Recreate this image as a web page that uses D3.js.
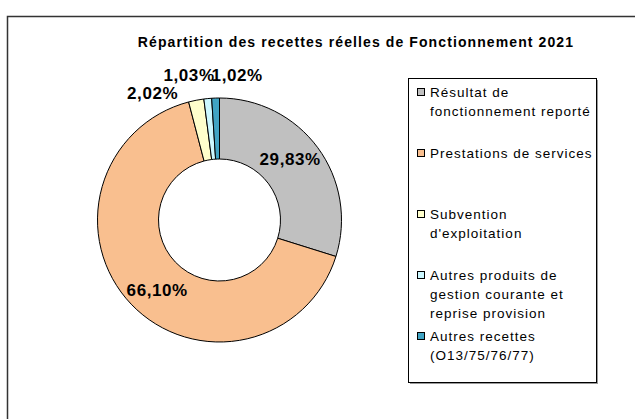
<!DOCTYPE html>
<html>
<head>
<meta charset="utf-8">
<script src="https://cdn.jsdelivr.net/npm/d3@7/dist/d3.min.js"></script>
<style>
  html, body { margin: 0; padding: 0; background: #fff; }
  svg { display: block; font-family: "Liberation Sans", Arial, sans-serif; }
</style>
</head>
<body>
<svg id="chart" width="635" height="419"></svg>
<script>
// Budget breakdown, operating revenue 2021 (percent of total)
const categories = [
  "Résultat de fonctionnement reporté",
  "Prestations de services",
  "Subvention d'exploitation",
  "Autres produits de gestion courante et reprise provision",
  "Autres recettes (O13/75/76/77)"
];
// legend text broken over lines
const legendLines = [
  ["Résultat de", "fonctionnement reporté"],
  ["Prestations de services"],
  ["Subvention", "d'exploitation"],
  ["Autres produits de", "gestion courante et", "reprise provision"],
  ["Autres recettes", "(O13/75/76/77)"]
];
const values = [29.83, 66.10, 2.02, 1.03, 1.02];
const valueLabels = ["29,83%", "66,10%", "2,02%", "1,03%", "1,02%"];
const colors = ["#C0C0C0", "#F9BF8F", "#FFFFCC", "#CCF8FF", "#40A4C4"];
const title = "Répartition des recettes réelles de Fonctionnement  2021";

const svg = d3.select("#chart");

// outer chart frame (runs past the right and bottom edges)
svg.append("rect")
  .attr("x", 7.5).attr("y", 16.5)
  .attr("width", 700).attr("height", 500)
  .attr("fill", "#fff")
  .attr("stroke", "#333").attr("stroke-width", 1.5);

// title
svg.append("text")
  .attr("x", 356).attr("y", 47)
  .attr("text-anchor", "middle")
  .attr("font-weight", "bold")
  .attr("font-size", 14)
  .attr("letter-spacing", 1.1)
  .text(title);

// doughnut
const cx = 219.5, cy = 220, outerR = 122, innerR = 61;
const pie = d3.pie().sort(null).value(d => d)(values);
const arc = d3.arc().innerRadius(innerR).outerRadius(outerR);

const g = svg.append("g").attr("transform", `translate(${cx},${cy})`);
g.selectAll("path.slice")
  .data(pie)
  .join("path")
  .attr("class", "slice")
  .attr("d", arc)
  .attr("fill", (d, i) => colors[i])
  .attr("stroke", "#000")
  .attr("stroke-width", 1);

// value labels: large slices inside the ring, small ones above it
const labelStyle = sel => sel
  .attr("font-weight", "bold")
  .attr("font-size", 17)
  .attr("letter-spacing", 0.6)
  .attr("fill", "#000");

const inside = pie.filter(d => d.value >= 5);
g.selectAll("text.inLabel")
  .data(inside)
  .join("text")
  .attr("class", "inLabel")
  .attr("text-anchor", "middle")
  .attr("dy", "0.36em")
  .attr("transform", d => {
    // a little counter-clockwise of the mid angle, on the ring's middle
    const a = (d.startAngle + d.endAngle) / 2 - 0.08;
    const r = (innerR + outerR) / 2 + 2;
    return `translate(${r * Math.sin(a)},${-r * Math.cos(a)})`;
  })
  .call(labelStyle)
  .text(d => valueLabels[d.index]);

// outside labels laid out right-to-left so neighbours sit side by side
const small = pie.filter(d => d.value < 5);
const rowY = -outerR - 17;
let nextStart = null;
small.slice().reverse().forEach((d, k) => {
  const a = (d.startAngle + d.endAngle) / 2;
  const px = outerR * Math.sin(a);
  const t = g.append("text").call(labelStyle).text(valueLabels[d.index]);
  if (k === 0) {
    t.attr("x", px - 4).attr("y", rowY).attr("text-anchor", "start");
    nextStart = px - 4;
  } else if (k === 1) {
    t.attr("x", nextStart + 3).attr("y", rowY).attr("text-anchor", "end");
    nextStart = nextStart + 3 - t.node().getComputedTextLength();
  } else {
    t.attr("x", px - 18).attr("y", rowY + 18).attr("text-anchor", "end");
  }
});

// legend
const lg = svg.append("g");
lg.append("rect")
  .attr("x", 410).attr("y", 80).attr("width", 188).attr("height", 304)
  .attr("fill", "#999");
lg.append("rect")
  .attr("x", 408.5).attr("y", 78.5).attr("width", 188).attr("height", 304)
  .attr("fill", "#fff").attr("stroke", "#000").attr("stroke-width", 1);

const ly = d3.scalePoint().domain(categories).range([92, 336]);
const items = lg.selectAll("g.item")
  .data(categories)
  .join("g")
  .attr("class", "item")
  .attr("transform", d => `translate(0,${ly(d)})`);
items.append("rect")
  .attr("x", 417.5).attr("y", -3.5).attr("width", 7).attr("height", 7)
  .attr("fill", (d, i) => colors[i])
  .attr("stroke", "#000").attr("stroke-width", 1);
items.append("text")
  .attr("x", 430).attr("y", 0)
  .attr("font-size", 13.5)
  .attr("letter-spacing", 1)
  .attr("fill", "#000")
  .selectAll("tspan")
  .data((d, i) => legendLines[i])
  .join("tspan")
  .attr("x", 430)
  .attr("y", (d, j) => j * 19)
  .attr("dy", "0.36em")
  .text(d => d);
</script>
</body>
</html>
